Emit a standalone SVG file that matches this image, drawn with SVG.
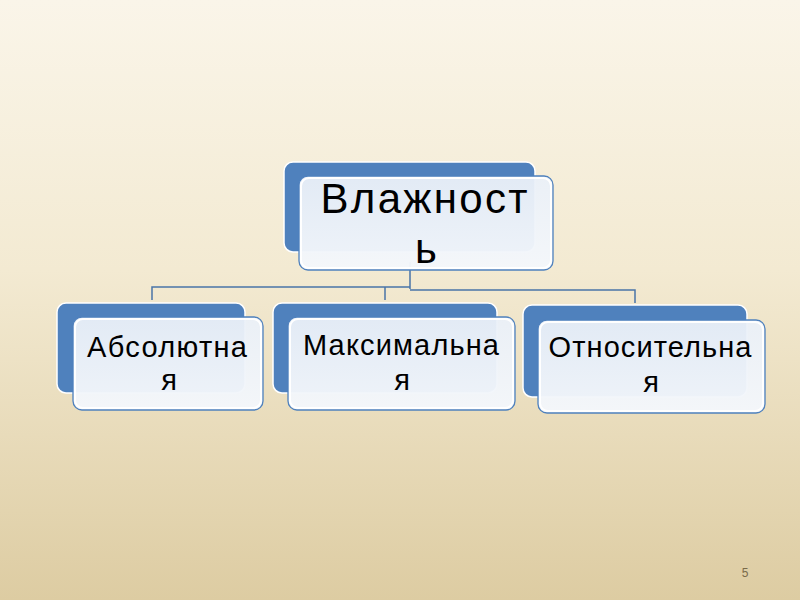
<svg xmlns="http://www.w3.org/2000/svg" width="800" height="600" viewBox="0 0 800 600">
<defs>
<linearGradient id="bg" x1="0" y1="0" x2="0" y2="1">
<stop offset="0" stop-color="#faf5e9"/>
<stop offset="0.45" stop-color="#f3ead2"/>
<stop offset="1" stop-color="#ddcca2"/>
</linearGradient>
<linearGradient id="fr" x1="0" y1="0" x2="0" y2="1">
<stop offset="0" stop-color="#eaf0f8" stop-opacity="0.95"/>
<stop offset="1" stop-color="#f4f7fb" stop-opacity="0.97"/>
</linearGradient>
</defs>
<style>
.back{fill:#4f81bd;stroke:#ffffff;stroke-width:1.5}
.front{fill:url(#fr);stroke:#4f81bd;stroke-width:1.3}
.inner{fill:none;stroke:#ffffff;stroke-width:2}
.t{font-family:"Liberation Sans",Arial,sans-serif;fill:#000000;text-anchor:middle}
.conn{fill:none;stroke:#4a74a8;stroke-width:1.5}
</style>
<rect width="800" height="600" fill="url(#bg)"/>
<g id="connectors">
<path class="conn" d="M410,262 V289 M410,287 H152 V300 M385,287 V300 M410,290 H635 V303"/>
</g>
<g id="node-top">
<rect class="back" x="284" y="162" width="251" height="90" rx="9"/>
<rect class="front" x="299" y="176" width="254" height="94" rx="9"/>
<rect class="inner" x="301" y="178" width="250" height="90" rx="8"/>
<text class="t" x="424" y="213" font-size="42" textLength="207" lengthAdjust="spacing">Влажност</text>
<text class="t" x="426" y="263" font-size="42">ь</text>
</g>
<g id="node-abs">
<rect class="back" x="57" y="303" width="188" height="90" rx="9"/>
<rect class="front" x="73" y="317" width="190" height="93" rx="9"/>
<rect class="inner" x="75" y="319" width="186" height="89" rx="8"/>
<text class="t" x="167" y="357" font-size="29" textLength="160" lengthAdjust="spacing">Абсолютна</text>
<text class="t" x="169" y="390" font-size="29">я</text>
</g>
<g id="node-max">
<rect class="back" x="273" y="303" width="224" height="90" rx="9"/>
<rect class="front" x="288" y="317" width="227" height="93" rx="9"/>
<rect class="inner" x="290" y="319" width="223" height="89" rx="8"/>
<text class="t" x="401" y="355" font-size="29" textLength="196" lengthAdjust="spacing">Максимальна</text>
<text class="t" x="402" y="390" font-size="29">я</text>
</g>
<g id="node-rel">
<rect class="back" x="523" y="305" width="224" height="92" rx="9"/>
<rect class="front" x="538" y="320" width="227" height="93" rx="9"/>
<rect class="inner" x="540" y="322" width="223" height="89" rx="8"/>
<text class="t" x="650" y="357" font-size="29" textLength="203" lengthAdjust="spacing">Относительна</text>
<text class="t" x="651" y="392" font-size="29">я</text>
</g>
<text x="745" y="577" font-family="'Liberation Sans',Arial,sans-serif" font-size="12" fill="#7a6a4a" text-anchor="middle">5</text>
</svg>
